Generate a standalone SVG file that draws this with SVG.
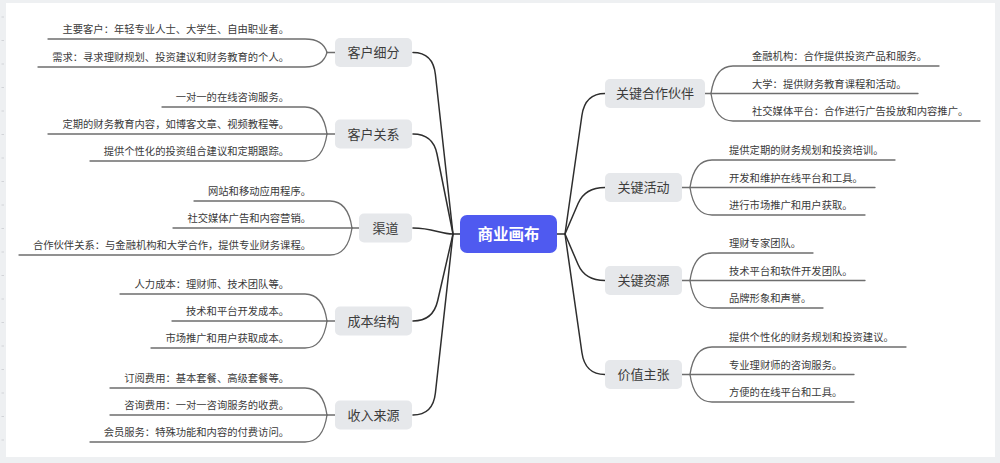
<svg xmlns="http://www.w3.org/2000/svg" width="1000" height="463" viewBox="0 0 1000 463">
<style>
.bg{fill:#eef0f2}
.panel{fill:#ffffff}
.tick{stroke:#d2d4d8;stroke-width:1}
.main{fill:none;stroke:#2e2e2e;stroke-width:1.5;stroke-linecap:round;stroke-linejoin:round}
.sub{fill:none;stroke:#6e6e6e;stroke-width:1.3;stroke-linecap:round;stroke-linejoin:round}
.node rect{fill:#e6e8eb}
.ntext{font-family:"Noto Sans CJK SC","Noto Sans",sans-serif;font-size:13px;fill:#3c3c3c;text-anchor:middle}
.ctext{font-family:"Noto Sans CJK SC","Noto Sans",sans-serif;font-size:10.3px;fill:#3a3a3a}
.l{text-anchor:end}
.root rect{fill:#4f5af0}
.rtext{font-family:"Noto Sans CJK SC","Noto Sans",sans-serif;font-size:15.5px;font-weight:bold;fill:#ffffff;text-anchor:middle}
</style>
<rect class="bg" x="0" y="0" width="1000" height="463"/>
<rect class="panel" x="6" y="3" width="989" height="454"/>
<g id="ruler">
<path class="tick" d="M1.5 17H4M1.5 40.5H4M1.5 64H4M1.5 87.5H4M1.5 111H4M1.5 134.5H4M1.5 158H4M1.5 181.5H4M1.5 205H4M1.5 228.5H4M1.5 252H4M1.5 275.5H4M1.5 299H4M1.5 322.5H4M1.5 346H4M1.5 369.5H4M1.5 393H4M1.5 416.5H4M1.5 440H4"/>
</g>
<g id="connectors">
<path class="main" d="M453 234 L460 234"/>
<path class="main" d="M557 234 L565 234"/>
<path class="main" d="M413 52.5 Q433 52.5 435.4 74.5 L453 234"/>
<path class="main" d="M413 134 Q433 134 437 154 L453 234"/>
<path class="main" d="M413 228 C433 228 440 234 453 234"/>
<path class="main" d="M413 321 Q433 321 437.6 301 L453 234"/>
<path class="main" d="M413 415 Q433 415 435.4 393 L453 234"/>
<path class="main" d="M605 93.5 Q585 93.5 581.9 115.5 L565 234"/>
<path class="main" d="M605 187.5 Q585 187.5 578.1 203.5 L565 234"/>
<path class="main" d="M605 280.5 Q585 280.5 578.1 264.5 L565 234"/>
<path class="main" d="M605 374.5 Q585 374.5 581.9 352.5 L565 234"/>
<path class="sub" d="M335 52.5 L327 52.5"/>
<path class="sub" d="M327 52.5 C325 45.75 319 39 305 39 L48 39"/>
<path class="sub" d="M327 52.5 C325 59.75 319 67 305 67 L38 67"/>
<path class="sub" d="M335 134 L327 134"/>
<path class="sub" d="M327 134 C325 120.5 319 107 305 107 L162 107"/>
<path class="sub" d="M327 134 L48 134"/>
<path class="sub" d="M327 134 C325 147.5 319 161 305 161 L90 161"/>
<path class="sub" d="M359 228 L352 228"/>
<path class="sub" d="M352 228 C350 214.5 344 201 330 201 L194 201"/>
<path class="sub" d="M352 228 L173 228"/>
<path class="sub" d="M352 228 C350 241.5 344 255 330 255 L19 255"/>
<path class="sub" d="M335 321 L327 321"/>
<path class="sub" d="M327 321 C325 307.5 319 294 305 294 L120 294"/>
<path class="sub" d="M327 321 L172 321"/>
<path class="sub" d="M327 321 C325 334.5 319 348 305 348 L151 348"/>
<path class="sub" d="M335 415 L327 415"/>
<path class="sub" d="M327 415 C325 401.5 319 388 305 388 L110 388"/>
<path class="sub" d="M327 415 L110 415"/>
<path class="sub" d="M327 415 C325 428.5 319 442 305 442 L90 442"/>
<path class="sub" d="M705 93.5 L711 93.5"/>
<path class="sub" d="M711 93.5 C713 79.75 719 66 733 66 L939 66"/>
<path class="sub" d="M711 93.5 L918 93.5"/>
<path class="sub" d="M711 93.5 C713 107.25 719 121 733 121 L980 121"/>
<path class="sub" d="M682 187.5 L690 187.5"/>
<path class="sub" d="M690 187.5 C692 173.75 698 160 712 160 L895 160"/>
<path class="sub" d="M690 187.5 L875 187.5"/>
<path class="sub" d="M690 187.5 C692 201.25 698 215 712 215 L865 215"/>
<path class="sub" d="M682 280.5 L690 280.5"/>
<path class="sub" d="M690 280.5 C692 266.75 698 253 712 253 L813 253"/>
<path class="sub" d="M690 280.5 L865 280.5"/>
<path class="sub" d="M690 280.5 C692 294.25 698 308 712 308 L823 308"/>
<path class="sub" d="M682 374.5 L690 374.5"/>
<path class="sub" d="M690 374.5 C692 360.75 698 347 712 347 L906 347"/>
<path class="sub" d="M690 374.5 L854 374.5"/>
<path class="sub" d="M690 374.5 C692 388.25 698 402 712 402 L854 402"/>
</g>
<g id="root" class="root">
<rect x="460" y="215" width="97" height="38" rx="7"/>
<text class="rtext" x="508.5" y="239.5">商业画布</text>
</g>
<g id="customer-segments" class="node">
<rect x="335" y="38" width="77" height="29" rx="5"/>
<text class="ntext" x="373.5" y="57">客户细分</text>
<text class="ctext l" x="289" y="33">主要客户：年轻专业人士、大学生、自由职业者。</text>
<text class="ctext l" x="289" y="61">需求：寻求理财规划、投资建议和财务教育的个人。</text>
</g>
<g id="customer-relationships" class="node">
<rect x="335" y="119.5" width="77" height="29" rx="5"/>
<text class="ntext" x="373.5" y="138.5">客户关系</text>
<text class="ctext l" x="289" y="101">一对一的在线咨询服务。</text>
<text class="ctext l" x="289" y="128">定期的财务教育内容，如博客文章、视频教程等。</text>
<text class="ctext l" x="289" y="155">提供个性化的投资组合建议和定期跟踪。</text>
</g>
<g id="channels" class="node">
<rect x="359" y="213.5" width="53" height="29" rx="5"/>
<text class="ntext" x="385.5" y="232.5">渠道</text>
<text class="ctext l" x="311" y="195">网站和移动应用程序。</text>
<text class="ctext l" x="311" y="222">社交媒体广告和内容营销。</text>
<text class="ctext l" x="311" y="249">合作伙伴关系：与金融机构和大学合作，提供专业财务课程。</text>
</g>
<g id="cost-structure" class="node">
<rect x="335" y="306.5" width="77" height="29" rx="5"/>
<text class="ntext" x="373.5" y="325.5">成本结构</text>
<text class="ctext l" x="289" y="288">人力成本：理财师、技术团队等。</text>
<text class="ctext l" x="289" y="315">技术和平台开发成本。</text>
<text class="ctext l" x="289" y="342">市场推广和用户获取成本。</text>
</g>
<g id="revenue-streams" class="node">
<rect x="335" y="400.5" width="77" height="29" rx="5"/>
<text class="ntext" x="373.5" y="419.5">收入来源</text>
<text class="ctext l" x="289" y="382">订阅费用：基本套餐、高级套餐等。</text>
<text class="ctext l" x="289" y="409">咨询费用：一对一咨询服务的收费。</text>
<text class="ctext l" x="289" y="436">会员服务：特殊功能和内容的付费访问。</text>
</g>
<g id="key-partners" class="node">
<rect x="605" y="79" width="100" height="29" rx="5"/>
<text class="ntext" x="655" y="98">关键合作伙伴</text>
<text class="ctext" x="752" y="60">金融机构：合作提供投资产品和服务。</text>
<text class="ctext" x="752" y="87.5">大学：提供财务教育课程和活动。</text>
<text class="ctext" x="752" y="115">社交媒体平台：合作进行广告投放和内容推广。</text>
</g>
<g id="key-activities" class="node">
<rect x="605" y="173" width="77" height="29" rx="5"/>
<text class="ntext" x="643.5" y="192">关键活动</text>
<text class="ctext" x="729" y="154">提供定期的财务规划和投资培训。</text>
<text class="ctext" x="729" y="181.5">开发和维护在线平台和工具。</text>
<text class="ctext" x="729" y="209">进行市场推广和用户获取。</text>
</g>
<g id="key-resources" class="node">
<rect x="605" y="266" width="77" height="29" rx="5"/>
<text class="ntext" x="643.5" y="285">关键资源</text>
<text class="ctext" x="729" y="247">理财专家团队。</text>
<text class="ctext" x="729" y="274.5">技术平台和软件开发团队。</text>
<text class="ctext" x="729" y="302">品牌形象和声誉。</text>
</g>
<g id="value-propositions" class="node">
<rect x="605" y="360" width="77" height="29" rx="5"/>
<text class="ntext" x="643.5" y="379">价值主张</text>
<text class="ctext" x="729" y="341">提供个性化的财务规划和投资建议。</text>
<text class="ctext" x="729" y="368.5">专业理财师的咨询服务。</text>
<text class="ctext" x="729" y="396">方便的在线平台和工具。</text>
</g>
</svg>
